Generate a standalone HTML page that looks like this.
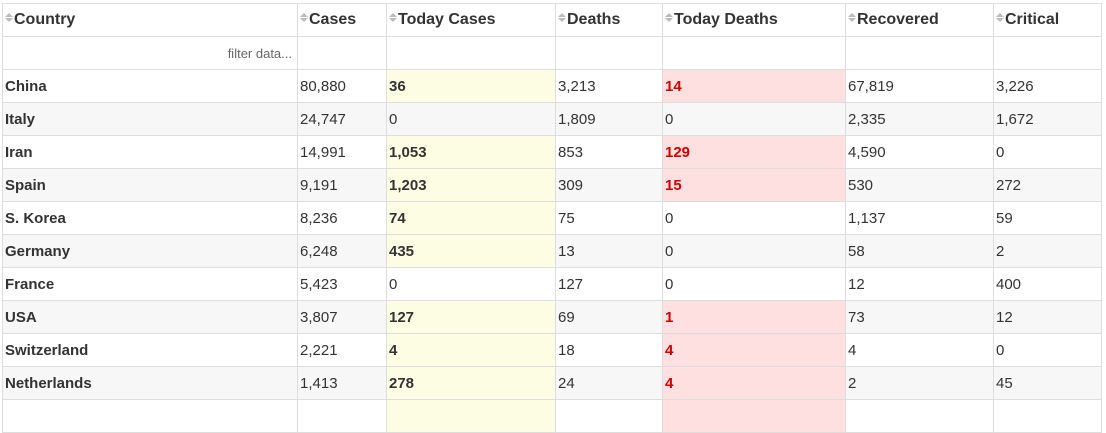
<!DOCTYPE html>
<html><head><meta charset="utf-8"><style>
html,body{margin:0;padding:0;background:#fff;width:1106px;height:404px;overflow:hidden}
table{position:absolute;left:2px;top:3px;border-collapse:collapse;table-layout:fixed;font-family:"Liberation Sans",sans-serif;color:#333;font-size:15px}
td,th{border:1px solid #ddd;height:32px;padding:0 2px;text-align:left;white-space:nowrap;overflow:hidden}
th{font-size:16px;font-weight:bold;color:#333}
.s{display:inline-block;width:8px;height:10px;position:relative;vertical-align:middle;margin-right:1px;top:-2px}
.s:before{content:"";position:absolute;left:0;top:0;border:4px solid transparent;border-bottom:4px solid #bbb;border-top:0}
.s:after{content:"";position:absolute;left:0;top:5px;border:4px solid transparent;border-top:4px solid #bbb;border-bottom:0}
tr.g td{background:#f7f7f7}
td.c{font-weight:bold}
td.y{background:#fdfde3!important;font-weight:bold}
td.r{background:#ffe0e1!important;font-weight:bold;color:#c00}
.f{text-align:right;font-size:13px;color:#666;padding-right:5px}
</style></head><body>
<table>
<colgroup><col style="width:295px"><col style="width:89px"><col style="width:169px"><col style="width:107px"><col style="width:183px"><col style="width:148px"><col style="width:108px"></colgroup>
<tr>
<th><span class="s"></span>Country</th>
<th><span class="s"></span>Cases</th>
<th><span class="s"></span>Today Cases</th>
<th><span class="s"></span>Deaths</th>
<th><span class="s"></span>Today Deaths</th>
<th><span class="s"></span>Recovered</th>
<th><span class="s"></span>Critical</th>
</tr>
<tr><td class="f">filter data...</td><td></td><td></td><td></td><td></td><td></td><td></td></tr>
<tr><td class="c">China</td><td>80,880</td><td class="y">36</td><td>3,213</td><td class="r">14</td><td>67,819</td><td>3,226</td></tr>
<tr class="g"><td class="c">Italy</td><td>24,747</td><td>0</td><td>1,809</td><td>0</td><td>2,335</td><td>1,672</td></tr>
<tr><td class="c">Iran</td><td>14,991</td><td class="y">1,053</td><td>853</td><td class="r">129</td><td>4,590</td><td>0</td></tr>
<tr class="g"><td class="c">Spain</td><td>9,191</td><td class="y">1,203</td><td>309</td><td class="r">15</td><td>530</td><td>272</td></tr>
<tr><td class="c">S. Korea</td><td>8,236</td><td class="y">74</td><td>75</td><td>0</td><td>1,137</td><td>59</td></tr>
<tr class="g"><td class="c">Germany</td><td>6,248</td><td class="y">435</td><td>13</td><td>0</td><td>58</td><td>2</td></tr>
<tr><td class="c">France</td><td>5,423</td><td>0</td><td>127</td><td>0</td><td>12</td><td>400</td></tr>
<tr class="g"><td class="c">USA</td><td>3,807</td><td class="y">127</td><td>69</td><td class="r">1</td><td>73</td><td>12</td></tr>
<tr><td class="c">Switzerland</td><td>2,221</td><td class="y">4</td><td>18</td><td class="r">4</td><td>4</td><td>0</td></tr>
<tr class="g"><td class="c">Netherlands</td><td>1,413</td><td class="y">278</td><td>24</td><td class="r">4</td><td>2</td><td>45</td></tr>
<tr><td></td><td></td><td class="y"></td><td></td><td class="r"></td><td></td><td></td></tr>
</table>
</body></html>
